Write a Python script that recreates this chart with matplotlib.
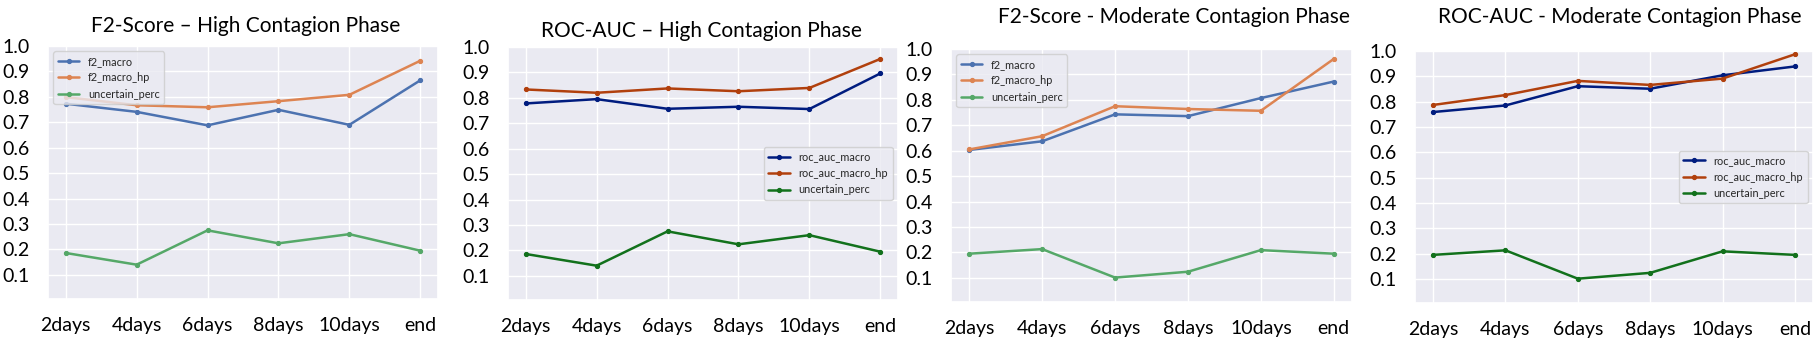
import matplotlib
matplotlib.use("Agg")
import matplotlib.pyplot as plt
import seaborn as sns

sns.set_theme(style="darkgrid")
plt.rcParams['font.family'] = ['Lato', 'DejaVu Sans']

x_labels = ["2days", "4days", "6days", "8days", "10days", "end"]

# High contagion phase
f2_macro_high = [0.773, 0.741, 0.688, 0.749, 0.690, 0.865]
f2_macro_hp_high = [0.799, 0.767, 0.759, 0.783, 0.808, 0.942]
roc_auc_macro_high = [0.778, 0.795, 0.757, 0.765, 0.756, 0.896]
roc_auc_macro_hp_high = [0.833, 0.820, 0.837, 0.826, 0.839, 0.953]
uncertain_high = [0.186, 0.140, 0.275, 0.224, 0.260, 0.195]

# Moderate contagion phase
f2_macro_mod = [0.603, 0.637, 0.743, 0.736, 0.807, 0.872]
f2_macro_hp_mod = [0.605, 0.657, 0.775, 0.764, 0.757, 0.961]
roc_auc_macro_mod = [0.759, 0.785, 0.861, 0.851, 0.904, 0.939]
roc_auc_macro_hp_mod = [0.787, 0.826, 0.882, 0.866, 0.891, 0.987]
uncertain_mod = [0.195, 0.213, 0.101, 0.124, 0.209, 0.195]

titles = ["F2-Score \u2013 High Contagion Phase",
          "ROC-AUC \u2013 High Contagion Phase",
          "F2-Score - Moderate Contagion Phase",
          "ROC-AUC - Moderate Contagion Phase"]

deep = sns.color_palette("deep")
dark = sns.color_palette("dark")

panels = [
    (titles[0], [("f2_macro", f2_macro_high), ("f2_macro_hp", f2_macro_hp_high), ("uncertain_perc", uncertain_high)], deep, "upper left"),
    (titles[1], [("roc_auc_macro", roc_auc_macro_high), ("roc_auc_macro_hp", roc_auc_macro_hp_high), ("uncertain_perc", uncertain_high)], dark, "center right"),
    (titles[2], [("f2_macro", f2_macro_mod), ("f2_macro_hp", f2_macro_hp_mod), ("uncertain_perc", uncertain_mod)], deep, "upper left"),
    (titles[3], [("roc_auc_macro", roc_auc_macro_mod), ("roc_auc_macro_hp", roc_auc_macro_hp_mod), ("uncertain_perc", uncertain_mod)], dark, "center right"),
]

W, H = 1814, 345
fig = plt.figure(figsize=(W / 100, H / 100), dpi=100)
fig.patch.set_facecolor("white")

# axes boxes in pixels: left, top, right, bottom
boxes = [(48, 46, 438, 299), (508, 47, 898, 300), (951, 49, 1352, 302), (1415, 51, 1813, 303)]
title_y = [26, 31, 17, 17]
title_x = [246, 701, 1174, 1620]

for (title, series, pal, loc), (l, t, r, b), ty, tx in zip(panels, boxes, title_y, title_x):
    ax = fig.add_axes([l / W, 1 - b / H, (r - l) / W, (b - t) / H])
    xs = list(range(len(x_labels)))
    for i, (name, vals) in enumerate(series):
        ax.plot(xs, vals, marker="o", markersize=2.8, linewidth=1.8, color=pal[i], label=name)
    ax.set_ylim(0.005, 1.0)
    ax.set_yticks([0.1, 0.2, 0.3, 0.4, 0.5, 0.6, 0.7, 0.8, 0.9, 1.0])
    ax.set_yticklabels(["0.1", "0.2", "0.3", "0.4", "0.5", "0.6", "0.7", "0.8", "0.9", "1.0"])
    ax.set_xticks(xs)
    ax.set_xticklabels(x_labels)
    ax.tick_params(axis="both", labelsize=14, colors="black", pad=7)
    ax.legend(loc=loc, fontsize=7.8, frameon=True)
    fig.text(tx / W, 1 - ty / H, title, ha="center", va="center", fontsize=15, color="black")

fig.savefig("out.png", dpi=100)
